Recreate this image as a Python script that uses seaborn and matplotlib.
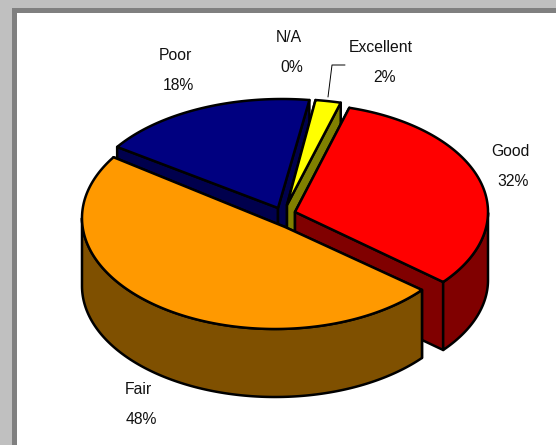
import numpy as np
import matplotlib
matplotlib.use('Agg')
import matplotlib.pyplot as plt
import seaborn as sns

# Chart data, clockwise from the top of the pie
categories = ['Excellent', 'Good', 'Fair', 'Poor', 'N/A']
percents = [2, 32, 48, 18, 0]

top_colors = sns.color_palette(['#ffff00', '#ff0000', '#ff9900', '#000080', '#808080'])
side_colors = sns.color_palette(['#808000', '#800000', '#7f5000', '#00004d', '#404040'])

# Slice geometry: tip after being pulled out, and the perspective ellipse of the rim
tips = {'Excellent': (287, 205), 'Good': (295, 212), 'Fair': (285, 227), 'Poor': (278, 208)}
rims = {'Excellent': (287, 205, 205, 106), 'Good': (300, 212, 188, 108),
        'Fair': (275, 218, 193, 111), 'Poor': (282, 205, 197, 106)}
# Labels: name position, percent is drawn below it
label_pos = {'Excellent': (381, 48), 'Good': (510, 152), 'Fair': (138, 390),
             'Poor': (175, 55), 'N/A': (289, 37)}
LABEL_GAP = 30

START_ANGLE = 82
DEPTH = 68

sns.set_style('white')
plt.rcParams['font.family'] = ['Liberation Sans', 'DejaVu Sans']

fig = plt.figure(figsize=(5.56, 4.45), dpi=100, facecolor='#c0c0c0')
ax = fig.add_axes([0, 0, 1, 1])
ax.set_xlim(0, 556)
ax.set_ylim(445, 0)
ax.axis('off')

# Chart frame
ax.fill([12, 556, 556, 12], [8, 8, 445, 445], color='#808080', lw=0, zorder=0)
ax.fill([17, 556, 556, 17], [13, 13, 445, 445], color='white', lw=0, zorder=0)


def draw_slice(tip, rim, t0, t1, top, side):
    # t0 > t1, going clockwise
    t = np.radians(np.linspace(t0, t1, 240))
    x = rim[0] + rim[2] * np.cos(t)
    y = rim[1] - rim[3] * np.sin(t)
    line = dict(edgecolor='black', linewidth=1.8, joinstyle='round')
    # cut walls
    for i in (0, -1):
        ax.fill([tip[0], x[i], x[i], tip[0]],
                [tip[1], y[i], y[i] + DEPTH, tip[1] + DEPTH],
                facecolor=side, **line)
    # outer rim, only the half that faces the viewer
    front = np.sin(t) <= 0
    if front.any():
        fx, fy = x[front], y[front]
        ax.fill(np.r_[fx, fx[::-1]], np.r_[fy, fy[::-1] + DEPTH], facecolor=side, **line)
    # top face
    ax.fill(np.r_[tip[0], x], np.r_[tip[1], y], facecolor=top, **line)


# Work out the angles of each slice from the percentages
angles = {}
current = START_ANGLE
total = sum(percents)
for name, pct in zip(categories, percents):
    angles[name] = (current, current - 360 * pct / total)
    current = angles[name][1]

# Back to front so nearer slices cover the ones behind
for name in ['Poor', 'Excellent', 'Good', 'Fair']:
    i = categories.index(name)
    draw_slice(tips[name], rims[name], angles[name][0], angles[name][1],
               top_colors[i], side_colors[i])

for name, pct in zip(categories, percents):
    lx, ly = label_pos[name]
    ax.text(lx, ly, name, ha='center', va='center', fontsize=11.3, color='#111111')
    ax.text(lx + 3, ly + LABEL_GAP, f'{pct}%', ha='center', va='center', fontsize=11.3, color='#111111')

# Leader line for the Excellent label
ax.plot([328, 332, 345], [97, 65, 65], color='black', lw=0.7)

fig.savefig('out.png', dpi=100, facecolor=fig.get_facecolor())
